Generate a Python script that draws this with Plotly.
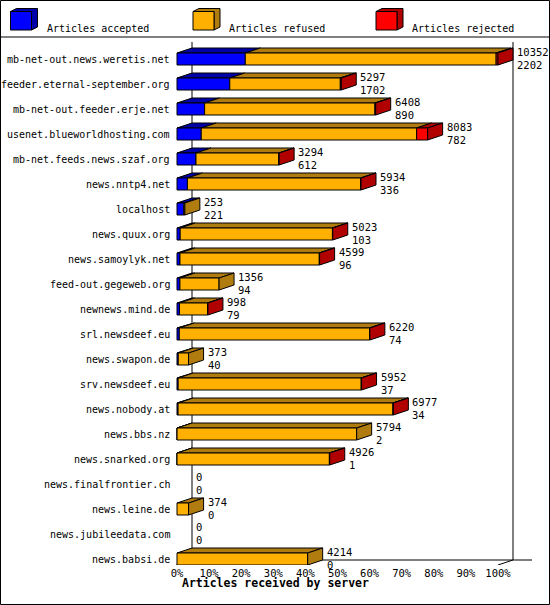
import plotly.graph_objects as go

servers = ["mb-net-out.news.weretis.net","feeder.eternal-september.org","mb-net-out.feeder.erje.net",
           "usenet.blueworldhosting.com","mb-net.feeds.news.szaf.org","news.nntp4.net","localhost",
           "news.quux.org","news.samoylyk.net","feed-out.gegeweb.org","newnews.mind.de","srl.newsdeef.eu",
           "news.swapon.de","srv.newsdeef.eu","news.nobody.at","news.bbs.nz","news.snarked.org",
           "news.finalfrontier.ch","news.leine.de","news.jubileedata.com","news.babsi.de"]
offered  = [10352,5297,6408,8083,3294,5934,253,5023,4599,1356,998,6220,373,5952,6977,5794,4926,0,374,0,4214]
accepted = [2202,1702,890,782,612,336,221,103,96,94,79,74,40,37,34,2,1,0,0,0,0]
rejected = [60,30,25,355,10,12,0,10,10,0,12,12,0,12,12,0,12,0,0,0,0]
ticks = [0,10,20,30,40,50,60,70,80,90,100]

W, H, B = 550, 605, 40
PXX = 3.21            # px per percent
X0 = 177              # px of 0%
ROW0, PITCH = 59, 25
DX = 15 / PXX         # depth in percent
DY = 5 / PITCH        # depth in rows
HH = 6 / PITCH        # half front height
FONT = "DejaVu Sans Mono"

front = ["#0000FF", "#FFB000", "#FF0000"]
dark = ["#0000A8", "#B07C10", "#B00000"]

fig = go.Figure()

def poly(xs, ys, color, lw=1):
    fig.add_trace(go.Scatter(x=xs + [xs[0]], y=ys + [ys[0]], mode="lines", fill="toself",
                             fillcolor=color, line=dict(color="black", width=lw),
                             hoverinfo="skip", showlegend=False))

def line(xs, ys):
    fig.add_trace(go.Scatter(x=xs, y=ys, mode="lines", line=dict(color="black", width=1),
                             hoverinfo="skip", showlegend=False))

ytop = (42 - ROW0) / PITCH
yback = (560 - ROW0) / PITCH
yfront = (565 - ROW0) / PITCH
line([DX, DX], [ytop, yback])
line([100 + DX, 100 + DX], [ytop, yback])
line([DX, (532 - X0) / PXX], [yback, yback])
line([-DX, DX], [(570 - ROW0) / PITCH, yback])
line([100, 100 + DX], [yfront, yback])

scale = max(offered)
for i, name in enumerate(servers):
    refused = offered[i] - accepted[i] - rejected[i]
    segs = [accepted[i], refused, rejected[i]]
    x = 0.0
    last = None
    for k, v in enumerate(segs):
        if v <= 0:
            continue
        w = v / scale * 100
        y1, y2 = i - HH, i + HH
        poly([x, x + DX, x + w + DX, x + w], [y1, y1 - DY, y1 - DY, y1], dark[k])
        poly([x, x + w, x + w, x], [y1, y1, y2, y2], front[k])
        x += w
        last = k
    if last is not None:
        y1, y2 = i - HH, i + HH
        poly([x, x + DX, x + DX, x], [y1, y1 - DY, y2 - DY, y2], dark[last])
    lx = x + DX + 1 / PXX * 2
    fig.add_annotation(x=lx, y=i - 0.27, text=str(offered[i]), showarrow=False, xanchor="left",
                       font=dict(family=FONT, size=10.5, color="black"))
    fig.add_annotation(x=lx, y=i + 0.23, text=str(accepted[i]), showarrow=False, xanchor="left",
                       font=dict(family=FONT, size=10.5, color="black"))
    fig.add_annotation(x=(172 - X0) / PXX, y=i, text=name, showarrow=False, xanchor="right",
                       font=dict(family=FONT, size=10, color="black"))

fig.add_annotation(xref="paper", yref="paper", x=180 / W, y=(H - B - 592) / (H - B),
                   text="<b>Articles received by server</b>", showarrow=False, xanchor="left",
                   font=dict(family=FONT, size=11.5, color="black"))

def px(xp): return xp / W
def py(yp): return (H - B - yp) / (H - B)

shapes = [
    dict(type="rect", xref="paper", yref="paper", x0=px(0.5), x1=px(549.5), y0=py(604.5), y1=py(0.5),
         line=dict(color="black", width=1)),
    dict(type="line", xref="paper", yref="paper", x0=0, x1=1, y0=py(37), y1=py(37),
         line=dict(color="black", width=1)),
]
legend = [("Articles accepted", 10.5, 0), ("Articles refused", 193, 1), ("Articles rejected", 376, 2)]
for text, lx, k in legend:
    fx1, fy1, fy2, d = lx + 21, 11.5, 30, 6
    shapes.append(dict(type="path", xref="paper", yref="paper", fillcolor=dark[k],
                       line=dict(color="black", width=1),
                       path=f"M{px(lx)},{py(fy1)} L{px(lx+d)},{py(fy1-3)} L{px(fx1+d)},{py(fy1-3)} "
                            f"L{px(fx1+d)},{py(fy2-3)} L{px(fx1)},{py(fy2)} L{px(fx1)},{py(fy1)} Z"))
    shapes.append(dict(type="rect", xref="paper", yref="paper", fillcolor=front[k],
                       line=dict(color="black", width=1),
                       x0=px(lx), x1=px(fx1), y0=py(fy2), y1=py(fy1)))
    fig.add_annotation(xref="paper", yref="paper", x=px(fx1 + 13), y=py(21), text=text,
                       showarrow=False, xanchor="left", font=dict(family=FONT, size=10, color="black"))

fig.update_layout(
    width=W, height=H, margin=dict(l=0, r=0, t=0, b=B), paper_bgcolor="white", plot_bgcolor="white",
    shapes=shapes, showlegend=False,
    xaxis=dict(range=[-X0 / PXX, (W - X0) / PXX], tickvals=ticks, ticktext=[f"{t}%" for t in ticks],
               showgrid=False, zeroline=False, showline=False, ticks="",
               tickfont=dict(family=FONT, size=10.5, color="black"), fixedrange=True),
    yaxis=dict(range=[(H - B - ROW0) / PITCH, -ROW0 / PITCH], showticklabels=False,
               showgrid=False, zeroline=False, showline=False, fixedrange=True),
)
fig.write_html("out.html", config={"displayModeBar": False},
               post_script="document.body.style.margin='0';document.body.style.overflow='hidden';")
